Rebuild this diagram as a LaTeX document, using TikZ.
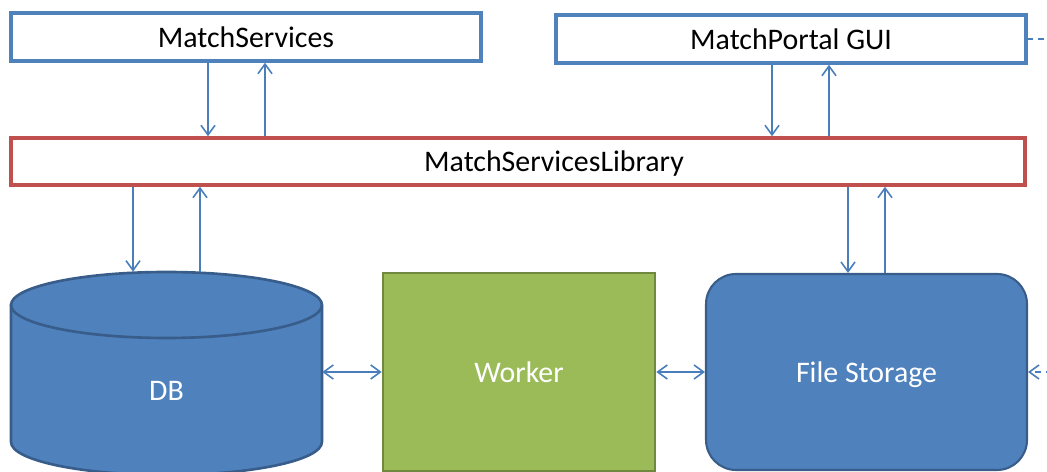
\documentclass[tikz,border=0pt]{standalone}
\usepackage{fontspec}
\setmainfont{Carlito}
\usepackage{tikz}
\usetikzlibrary{arrows.meta,positioning}
\definecolor{officeblue}{HTML}{4F81BD}
\definecolor{darkblue}{HTML}{385D8A}
\definecolor{officered}{HTML}{C0504D}
\definecolor{officegreen}{HTML}{9BBB59}
\definecolor{darkgreen}{HTML}{71893F}
\definecolor{linkblue}{HTML}{4A7EBB}

\begin{document}
\begin{tikzpicture}[x=0.02cm, y=0.02cm,
    >={Straight Barb[length=5.5pt,width=8pt]},
    layer/.style={draw=officeblue, line width=2pt, fill=white, inner sep=0pt,
        minimum width=9.4cm, minimum height=0.96cm, text depth=0pt,
        font=\fontsize{17}{20}\selectfont},
    store/.style={fill=officeblue, draw=darkblue, line width=1.5pt, inner sep=0pt,
        text=white, text depth=0pt, font=\fontsize{17}{20}\selectfont},
    link/.style={linkblue, line width=0.9pt}]

    \useasboundingbox (0,0) rectangle (1047,472);
    \clip (0,0) rectangle (1047,472);

    % Clients
    \node[layer] (svc) at (246,435) {MatchServices};
    \node[layer] (portal) at (791,433) {MatchPortal GUI};

    % Library
    \node[layer, draw=officered, minimum width=20.28cm, minimum height=0.94cm,
        label={[font=\fontsize{17}{20}\selectfont, text depth=0pt, xshift=0.72cm]center:MatchServicesLibrary}] (lib) at (518,310.5) {};

    % Worker and file storage
    \node[store, fill=officegreen, draw=darkgreen, minimum width=5.44cm, minimum height=3.96cm] (worker) at (519,100) {Worker};
    \node[store, rounded corners=0.6cm, line width=1.2pt, minimum width=6.42cm, minimum height=3.92cm] (fs) at (866.5,100) {File Storage};

    % DB cylinder
    \node[minimum width=6.22cm, minimum height=4.06cm, inner sep=0pt] (db) at (166.5,98.5) {};
    \draw[fill=officeblue, draw=darkblue, line width=1.5pt] (11,167) -- (11,30)
        arc[start angle=180, end angle=360, x radius=3.11cm, y radius=0.66cm] -- (322,167)
        arc[start angle=0, end angle=180, x radius=3.11cm, y radius=0.66cm] -- cycle;
    \draw[darkblue, line width=1.5pt] (11,167) arc[start angle=180, end angle=360, x radius=3.11cm, y radius=0.66cm];
    \node[text=white, text depth=0pt, font=\fontsize{17}{20}\selectfont] (dblabel) at (166.5,81) {DB};

    % Calls between layers
    \draw[link, ->] ([xshift=-0.76cm]svc.south) -- ([xshift=-0.76cm]svc.south |- lib.north);
    \draw[link, <-] ([xshift=0.38cm]svc.south) -- ([xshift=0.38cm]svc.south |- lib.north);
    \draw[link, ->] ([xshift=-0.38cm]portal.south) -- ([xshift=-0.38cm]portal.south |- lib.north);
    \draw[link, <-] ([xshift=0.76cm]portal.south) -- ([xshift=0.76cm]portal.south |- lib.north);
    \draw[link, <-] ([xshift=-0.67cm]db.north) -- ([xshift=-0.67cm]db.north |- lib.south);
    \draw[link, ->] ([xshift=0.67cm]db.north) -- ([xshift=0.67cm]db.north |- lib.south);
    \draw[link, <-] ([xshift=-0.37cm]fs.north) -- ([xshift=-0.37cm]fs.north |- lib.south);
    \draw[link, ->] ([xshift=0.37cm]fs.north) -- ([xshift=0.37cm]fs.north |- lib.south);

    % Worker links
    \draw[link, <->] (worker.west -| db.east) -- (worker.west);
    \draw[link, <->] (worker.east) -- (fs.west);

    % Off-page links
    \coordinate (offgui) at (1080,433);
    \coordinate (offfs) at (1080,100);
    \draw[link, dash pattern=on 3pt off 3pt] (portal.east) -- (offgui);
    \draw[link, <-, dash pattern=on 3pt off 3pt, dash phase=3pt] (fs.east) -- (offfs);

\end{tikzpicture}
\end{document}
